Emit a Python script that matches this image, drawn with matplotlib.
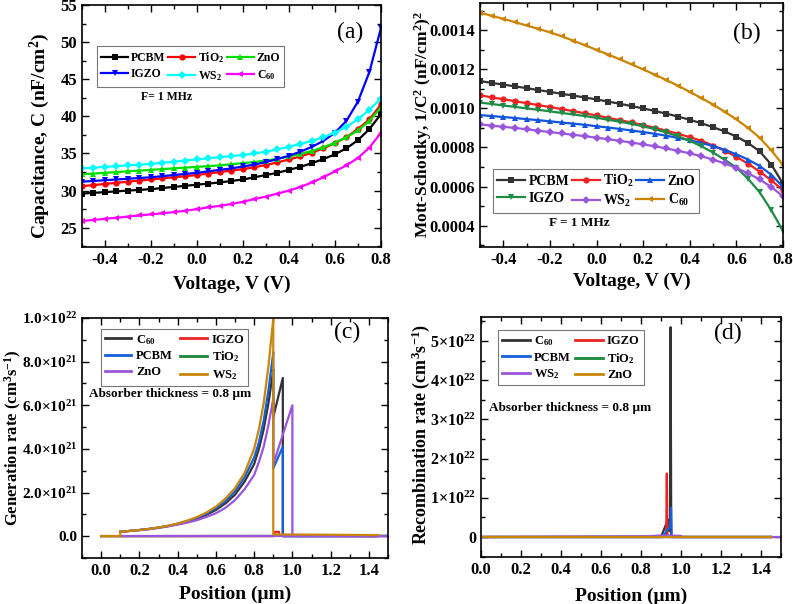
import matplotlib
matplotlib.use("Agg")
import numpy as np
import matplotlib.pyplot as plt
from matplotlib.ticker import AutoMinorLocator, FixedLocator, FuncFormatter

plt.rcParams['font.family'] = ['Liberation Serif', 'DejaVu Serif']
plt.rcParams['font.weight'] = 'bold'
plt.rcParams['axes.labelweight'] = 'bold'
plt.rcParams['mathtext.fontset'] = 'custom'
plt.rcParams['mathtext.rm'] = 'Liberation Serif:bold'
plt.rcParams['mathtext.bf'] = 'Liberation Serif:bold'
plt.rcParams['mathtext.it'] = 'Liberation Serif:italic:bold'
plt.rcParams['axes.unicode_minus'] = False

# ---------------- (a) capacitance vs voltage (nF/cm2) ----------------
volt = [-0.5, -0.45, -0.4, -0.35, -0.3, -0.25, -0.2, -0.15, -0.1, -0.05, 0.0,
        0.05, 0.1, 0.15, 0.2, 0.25, 0.3, 0.35, 0.4, 0.45, 0.5, 0.55, 0.6,
        0.65, 0.7, 0.75, 0.8]
cap_pcbm = [29.6, 29.7, 29.8, 29.9, 30.0, 30.1, 30.2, 30.35, 30.5, 30.65, 30.8,
            30.95, 31.1, 31.3, 31.5, 31.8, 32.1, 32.4, 32.8, 33.2, 33.7, 34.25,
            34.9, 35.7, 36.8, 38.3, 40.3]
cap_tio2 = [30.6, 30.75, 30.9, 31.05, 31.2, 31.35, 31.5, 31.65, 31.8, 31.95, 32.1,
            32.3, 32.5, 32.7, 32.9, 33.15, 33.45, 33.8, 34.2, 34.6, 35.1, 35.7,
            36.4, 37.2, 38.3, 39.6, 41.6]
cap_zno = [32.2, 32.3, 32.4, 32.5, 32.6, 32.7, 32.8, 32.9, 33.0, 33.1, 33.2,
           33.3, 33.4, 33.55, 33.7, 33.85, 34.05, 34.3, 34.6, 34.95, 35.35, 35.85,
           36.45, 37.2, 38.1, 39.4, 41.2]
cap_igzo = [31.2, 31.3, 31.4, 31.5, 31.6, 31.7, 31.8, 31.95, 32.1, 32.25, 32.4,
            32.6, 32.8, 33.0, 33.25, 33.5, 33.85, 34.25, 34.7, 35.25, 35.9, 36.7,
            37.8, 39.4, 42.0, 46.0, 51.9]
cap_ws2 = [33.0, 33.1, 33.2, 33.3, 33.4, 33.5, 33.6, 33.75, 33.9, 34.05, 34.2,
           34.35, 34.5, 34.65, 34.8, 35.0, 35.25, 35.55, 35.9, 36.3, 36.7, 37.2,
           37.8, 38.6, 39.6, 40.9, 42.4]
cap_c60 = [25.9, 26.05, 26.2, 26.35, 26.5, 26.65, 26.8, 26.95, 27.1, 27.3, 27.5,
           27.75, 27.95, 28.2, 28.5, 28.85, 29.2, 29.6, 30.0, 30.5, 31.1, 31.8,
           32.6, 33.4, 34.4, 35.8, 37.8]

# ---------------- (b) Mott-Schottky 1/C^2 ----------------
ms_pcbm = [0.001140, 0.001131, 0.001122, 0.001113, 0.001104, 0.001094, 0.001085,
           0.001075, 0.001066, 0.001056, 0.001046, 0.001035, 0.001024, 0.001012,
           0.001000, 0.000987, 0.000973, 0.000958, 0.000942, 0.000924, 0.000904,
           0.000882, 0.000856, 0.000823, 0.000780, 0.000712, 0.000615]
ms_tio2 = [0.001067, 0.001057, 0.001047, 0.001037, 0.001027, 0.001017, 0.001007,
           0.000997, 0.000986, 0.000975, 0.000964, 0.000952, 0.000940, 0.000928,
           0.000915, 0.000901, 0.000886, 0.000870, 0.000853, 0.000834, 0.000810,
           0.000783, 0.000752, 0.000717, 0.000676, 0.000632, 0.000580]
ms_zno = [0.000966, 0.000961, 0.000956, 0.000951, 0.000945, 0.000940, 0.000934,
          0.000928, 0.000922, 0.000916, 0.000909, 0.000902, 0.000895, 0.000887,
          0.000879, 0.000870, 0.000860, 0.000849, 0.000837, 0.000823, 0.000807,
          0.000788, 0.000765, 0.000738, 0.000705, 0.000660, 0.000598]
ms_igzo = [0.001030, 0.001023, 0.001015, 0.001008, 0.001000, 0.000993, 0.000985,
           0.000977, 0.000969, 0.000961, 0.000952, 0.000942, 0.000932, 0.000921,
           0.000908, 0.000894, 0.000877, 0.000857, 0.000834, 0.000806, 0.000774,
           0.000737, 0.000697, 0.000640, 0.000570, 0.000478, 0.000372]
ms_ws2 = [0.000918, 0.000912, 0.000906, 0.000900, 0.000893, 0.000886, 0.000879,
          0.000872, 0.000865, 0.000858, 0.000850, 0.000842, 0.000834, 0.000825,
          0.000816, 0.000806, 0.000795, 0.000783, 0.000770, 0.000755, 0.000738,
          0.000718, 0.000695, 0.000668, 0.000636, 0.000597, 0.000550]
ms_c60 = [0.001490, 0.001475, 0.001459, 0.001442, 0.001425, 0.001408, 0.001390,
          0.001370, 0.001347, 0.001324, 0.001300, 0.001276, 0.001252, 0.001226,
          0.001200, 0.001173, 0.001145, 0.001116, 0.001085, 0.001053, 0.001020,
          0.000983, 0.000944, 0.000900, 0.000850, 0.000785, 0.000710]

# ---------------- (c) generation rate (x1e21 cm-3 s-1) ----------------
pos_abs = [0.1, 0.15, 0.2, 0.25, 0.3, 0.35, 0.4, 0.45, 0.5, 0.55, 0.6, 0.65,
           0.7, 0.75, 0.8, 0.825, 0.85, 0.875, 0.9]
gen_ws2 = [0.20, 0.24, 0.28, 0.33, 0.40, 0.48, 0.58, 0.71, 0.87, 1.08, 1.35,
           1.72, 2.20, 2.90, 4.00, 4.90, 6.10, 7.80, 9.95]
gen_pcbm = [0.20, 0.24, 0.28, 0.33, 0.39, 0.47, 0.57, 0.69, 0.84, 1.03, 1.28,
            1.60, 2.05, 2.70, 3.60, 4.30, 5.30, 6.70, 8.40]
gen_c60 = [0.20, 0.24, 0.28, 0.33, 0.39, 0.46, 0.55, 0.66, 0.80, 0.98, 1.20,
           1.50, 1.90, 2.50, 3.30, 4.00, 4.90, 6.10, 7.60]
gen_zno = [0.20, 0.24, 0.28, 0.32, 0.38, 0.45, 0.53, 0.62, 0.73, 0.88, 1.05,
           1.30, 1.65, 2.15, 2.80, 3.40, 4.10, 5.10, 6.30]
# segments beyond the absorber
c60_tail_x = [0.9, 0.9, 0.95, 0.95, 1.45]
c60_tail_y = [7.6, 5.45, 7.25, 0.0, 0.0]
pcbm_tail_x = [0.9, 0.9, 0.95, 0.95, 1.45]
pcbm_tail_y = [8.4, 3.1, 4.1, 0.0, 0.0]
zno_tail_x = [0.9, 0.9, 1.0, 1.0, 1.5]
zno_tail_y = [6.3, 3.3, 6.0, 0.0, 0.0]
ws2_tail_x = [0.9, 0.9, 1.45]
ws2_tail_y = [9.95, 0.08, 0.05]
igzo_gen_x = [0.0, 0.9, 0.91, 0.93, 0.93, 1.43]
igzo_gen_y = [0.0, 0.0, 0.2, 0.2, 0.03, 0.0]
tio2_gen_x = [0.0, 1.5]
tio2_gen_y = [0.0, 0.02]
zno_flat_x = [0.1, 1.5]
zno_flat_y = [0.0, 0.0]
front_x = [0.0, 0.1]
front_y = [0.0, 0.0]

# ---------------- (d) recombination rate (x1e22 cm-3 s-1) ----------------
rec_c60_x = [0.0, 0.9, 0.935, 0.942, 0.945, 0.948, 0.951, 1.45]
rec_c60_y = [0.0, 0.0, 0.45, 0.15, 0.2, 5.35, 0.0, 0.0]
rec_igzo_x = [0.0, 0.926, 0.929, 0.932, 1.45]
rec_igzo_y = [0.0, 0.0, 1.62, 0.0, 0.0]
rec_pcbm_x = [0.0, 0.91, 0.93, 0.945, 0.95, 0.953, 1.45]
rec_pcbm_y = [0.0, 0.0, 0.18, 0.25, 0.75, 0.0, 0.0]
rec_tio2_x = [0.0, 1.45]
rec_tio2_y = [0.0, 0.0]
rec_ws2_x = [0.0, 0.84, 0.9, 1.0, 1.0, 1.5]
rec_ws2_y = [0.0, 0.02, 0.04, 0.03, 0.0, 0.0]
rec_zno_x = [0.0, 1.45]
rec_zno_y = [0.0, 0.0]


def style_axes(ax, ylabelsize=12):
    for sp in ax.spines.values():
        sp.set_linewidth(1.2)
    ax.tick_params(which='both', direction='in', top=True, right=True,
                   labelsize=12, width=1.0)
    ax.tick_params(axis='y', labelsize=ylabelsize)
    ax.tick_params(which='major', length=5)
    ax.tick_params(which='minor', length=3)
    ax.xaxis.set_minor_locator(AutoMinorLocator(2))
    ax.yaxis.set_minor_locator(AutoMinorLocator(2))
    for lab in ax.get_xticklabels() + ax.get_yticklabels():
        lab.set_fontweight('bold')


def ordered_legend(ax, order, **kwargs):
    # legend fills column by column, so reorder to get the row layout
    handles, labels = ax.get_legend_handles_labels()
    lookup = dict(zip(labels, handles))
    leg = ax.legend([lookup[k] for k in order], order, loc='upper left',
                    fancybox=False, edgecolor='#555555', **kwargs)
    leg.get_frame().set_linewidth(0.8)
    return leg


fig = plt.figure(figsize=(7.93, 6.04), dpi=100)

# ---- (a)
ax1 = fig.add_axes([0.1034, 0.591, 0.377, 0.4007])
kw = dict(lw=1.6, ms=4.5, mew=0)
ax1.plot(volt, cap_pcbm, color='black', marker='s', label='PCBM', **kw)
ax1.plot(volt, cap_tio2, color='#ff0000', marker='o', label='TiO$_2$', **kw)
ax1.plot(volt, cap_zno, color='#00dd00', marker='^', label='ZnO', **kw)
ax1.plot(volt, cap_igzo, color='#0000ff', marker='v', label='IGZO', **kw)
ax1.plot(volt, cap_ws2, color='#00ffff', marker='D', label='WS$_2$', **kw)
ax1.plot(volt, cap_c60, color='#ff00ff', marker='<', label='C$_{60}$', **kw)
ax1.set_xlim(-0.5, 0.8)
ax1.set_ylim(22.4, 55)
ax1.xaxis.set_major_locator(FixedLocator([-0.4, -0.2, 0.0, 0.2, 0.4, 0.6, 0.8]))
ax1.xaxis.set_major_formatter(FuncFormatter(lambda v, p: f"{v:.1f}"))
ax1.set_yticks([25, 30, 35, 40, 45, 50, 55])
ax1.set_xlabel('Voltage, V (V)', fontsize=14)
ax1.set_ylabel('Capacitance, C (nF/cm$^2$)', fontsize=14)
ax1.xaxis.set_label_coords(0.5, -0.12)
ax1.yaxis.set_label_coords(-0.10, 0.46)
style_axes(ax1)
ordered_legend(ax1, ['PCBM', 'IGZO', 'TiO$_2$', 'WS$_2$', 'ZnO', 'C$_{60}$'],
               ncol=3, bbox_to_anchor=(0.03, 0.855), fontsize=8.5,
               handlelength=2.3, columnspacing=0.2, handletextpad=0.25,
               numpoints=1, borderpad=0.35, labelspacing=0.35)
ax1.text(0.284, 0.62, 'F= 1 MHz', transform=ax1.transAxes, fontsize=8.5,
         ha='center', va='center', fontweight='bold')
ax1.text(0.896, 0.888, '(a)', transform=ax1.transAxes, fontsize=17,
         ha='center', va='center', fontweight='normal')

# ---- (b)
ax2 = fig.add_axes([0.6053, 0.591, 0.3821, 0.404])
ax2.plot(volt, ms_pcbm, color='#333333', marker='s', label='PCBM', **kw)
ax2.plot(volt, ms_tio2, color='#ee2222', marker='o', label='TiO$_2$', **kw)
ax2.plot(volt, ms_zno, color='#1155dd', marker='^', label='ZnO', **kw)
ax2.plot(volt, ms_igzo, color='#1e8c46', marker='v', label='IGZO', **kw)
ax2.plot(volt, ms_ws2, color='#9955dd', marker='D', label='WS$_2$', **kw)
ax2.plot(volt, ms_c60, color='#cc8400', marker='<', label='C$_{60}$', **kw)
ax2.set_xlim(-0.5, 0.8)
ax2.set_ylim(0.00029, 0.00154)
ax2.xaxis.set_major_locator(FixedLocator([-0.4, -0.2, 0.0, 0.2, 0.4, 0.6, 0.8]))
ax2.xaxis.set_major_formatter(FuncFormatter(lambda v, p: f"{v:.1f}"))
ax2.set_yticks([0.0004, 0.0006, 0.0008, 0.0010, 0.0012, 0.0014])
ax2.yaxis.set_major_formatter(FuncFormatter(lambda v, p: f"{v:.4f}"))
ax2.set_xlabel('Voltage, V (V)', fontsize=14)
ax2.set_ylabel('Mott-Schottky, 1/C$^2$ (nF/cm$^2$)$^2$', fontsize=12.5)
ax2.xaxis.set_label_coords(0.5, -0.107)
ax2.yaxis.set_label_coords(-0.152, 0.5)
style_axes(ax2)
ordered_legend(ax2, ['PCBM', 'IGZO', 'TiO$_2$', 'WS$_2$', 'ZnO', 'C$_{60}$'],
               ncol=3, bbox_to_anchor=(0.02, 0.35), fontsize=10,
               handlelength=2.0, columnspacing=0.2, handletextpad=0.25,
               numpoints=1, borderpad=0.3, labelspacing=0.3)
ax2.text(0.327, 0.098, 'F = 1 MHz', transform=ax2.transAxes, fontsize=9.5,
         ha='center', va='center', fontweight='bold')
ax2.text(0.881, 0.877, '(b)', transform=ax2.transAxes, fontsize=17,
         ha='center', va='center', fontweight='normal')

# ---- (c)
ax3 = fig.add_axes([0.1034, 0.0762, 0.3859, 0.3974])
s = 1e21
lw = 1.6
ax3.plot(c60_tail_x, np.array(c60_tail_y) * s, color='#333333', lw=lw)
ax3.plot(pos_abs, np.array(gen_c60) * s, color='#333333', lw=lw, label='C$_{60}$')
ax3.plot(igzo_gen_x, np.array(igzo_gen_y) * s, color='#ee2222', lw=lw, label='IGZO')
ax3.plot(pcbm_tail_x, np.array(pcbm_tail_y) * s, color='#1560d8', lw=lw)
ax3.plot(pos_abs, np.array(gen_pcbm) * s, color='#1560d8', lw=lw, label='PCBM')
ax3.plot(tio2_gen_x, np.array(tio2_gen_y) * s, color='#1a8a3a', lw=lw, label='TiO$_2$')
ax3.plot(zno_flat_x, np.array(zno_flat_y) * s, color='#9955dd', lw=lw)
ax3.plot(zno_tail_x, np.array(zno_tail_y) * s, color='#9955dd', lw=lw)
ax3.plot(pos_abs, np.array(gen_zno) * s, color='#9955dd', lw=lw, label='ZnO')
ax3.plot(front_x, np.array(front_y) * s, color='#c8860a', lw=lw)
ax3.plot(ws2_tail_x, np.array(ws2_tail_y) * s, color='#c8860a', lw=lw)
ax3.plot([0.1] + pos_abs, np.array([0.0] + gen_ws2) * s, color='#c8860a', lw=lw,
         label='WS$_2$')
ax3.set_xlim(-0.1, 1.5)
ax3.set_ylim(-1.0e21, 1.0e22)
ax3.set_xticks([0.0, 0.2, 0.4, 0.6, 0.8, 1.0, 1.2, 1.4])
ax3.xaxis.set_major_formatter(FuncFormatter(lambda v, p: f"{v:.1f}"))
ax3.set_yticks([0, 2e21, 4e21, 6e21, 8e21, 1e22])


def gen_fmt(v, p):
    if v == 0:
        return '0.0'
    e = int(np.floor(np.log10(v) + 1e-9))
    return r'$%.1f{\times}10^{%d}$' % (v / 10 ** e, e)


ax3.yaxis.set_major_formatter(FuncFormatter(gen_fmt))
ax3.set_xlabel('Position (\u03bcm)', fontsize=14)
ax3.set_ylabel('Generation rate (cm$^3$s$^{-1}$)', fontsize=12)
ax3.xaxis.set_label_coords(0.5, -0.117)
ax3.yaxis.set_label_coords(-0.19, 0.5)
style_axes(ax3, ylabelsize=11)
leg = ordered_legend(ax3, ['C$_{60}$', 'PCBM', 'ZnO', 'IGZO', 'TiO$_2$', 'WS$_2$'],
                     ncol=2, bbox_to_anchor=(0.042, 0.98), fontsize=9,
                     handlelength=2.1, columnspacing=0.6, handletextpad=0.4,
                     borderpad=0.3, labelspacing=0.3)
for line in leg.get_lines():
    line.set_linewidth(2.0)
ax3.text(0.288, 0.683, 'Absorber thickness = 0.8 \u03bcm', transform=ax3.transAxes,
         fontsize=9.5, ha='center', va='center', fontweight='bold')
ax3.text(0.866, 0.9375, '(c)', transform=ax3.transAxes, fontsize=17,
         ha='center', va='center', fontweight='normal')

# ---- (d)
ax4 = fig.add_axes([0.6066, 0.0778, 0.3783, 0.3974])
s = 1e22
ax4.plot(rec_c60_x, np.array(rec_c60_y) * s, color='#333333', lw=lw, label='C$_{60}$')
ax4.plot(rec_igzo_x, np.array(rec_igzo_y) * s, color='#ee2222', lw=lw, label='IGZO')
ax4.plot(rec_pcbm_x, np.array(rec_pcbm_y) * s, color='#1560d8', lw=lw, label='PCBM')
ax4.plot(rec_tio2_x, np.array(rec_tio2_y) * s, color='#1a8a3a', lw=lw, label='TiO$_2$')
ax4.plot(rec_ws2_x, np.array(rec_ws2_y) * s, color='#9955dd', lw=lw, label='WS$_2$')
ax4.plot(rec_zno_x, np.array(rec_zno_y) * s, color='#c8860a', lw=lw, label='ZnO')
ax4.set_xlim(0.0, 1.5)
ax4.set_ylim(-0.51e22, 5.61e22)
ax4.set_xticks([0.0, 0.2, 0.4, 0.6, 0.8, 1.0, 1.2, 1.4])
ax4.xaxis.set_major_formatter(FuncFormatter(lambda v, p: f"{v:.1f}"))
ax4.set_yticks([0, 1e22, 2e22, 3e22, 4e22, 5e22])


def rec_fmt(v, p):
    if v == 0:
        return '0'
    return r'$%d{\times}10^{22}$' % round(v / 1e22)


ax4.yaxis.set_major_formatter(FuncFormatter(rec_fmt))
ax4.set_xlabel('Position (\u03bcm)', fontsize=14)
ax4.set_ylabel('Recombination rate (cm$^3$s$^{-1}$)', fontsize=13)
ax4.xaxis.set_label_coords(0.5, -0.129)
ax4.yaxis.set_label_coords(-0.165, 0.51)
style_axes(ax4, ylabelsize=11.5)
leg = ordered_legend(ax4, ['C$_{60}$', 'PCBM', 'WS$_2$', 'IGZO', 'TiO$_2$', 'ZnO'],
                     ncol=2, bbox_to_anchor=(0.035, 0.97), fontsize=9,
                     handlelength=2.3, columnspacing=0.3, handletextpad=0.3,
                     borderpad=0.3, labelspacing=0.3)
for line in leg.get_lines():
    line.set_linewidth(2.0)
ax4.text(0.297, 0.621, 'Absorber thickness = 0.8 \u03bcm', transform=ax4.transAxes,
         fontsize=9.5, ha='center', va='center', fontweight='bold')
ax4.text(0.823, 0.933, '(d)', transform=ax4.transAxes, fontsize=17,
         ha='center', va='center', fontweight='normal')

fig.savefig('out.png', dpi=100)
